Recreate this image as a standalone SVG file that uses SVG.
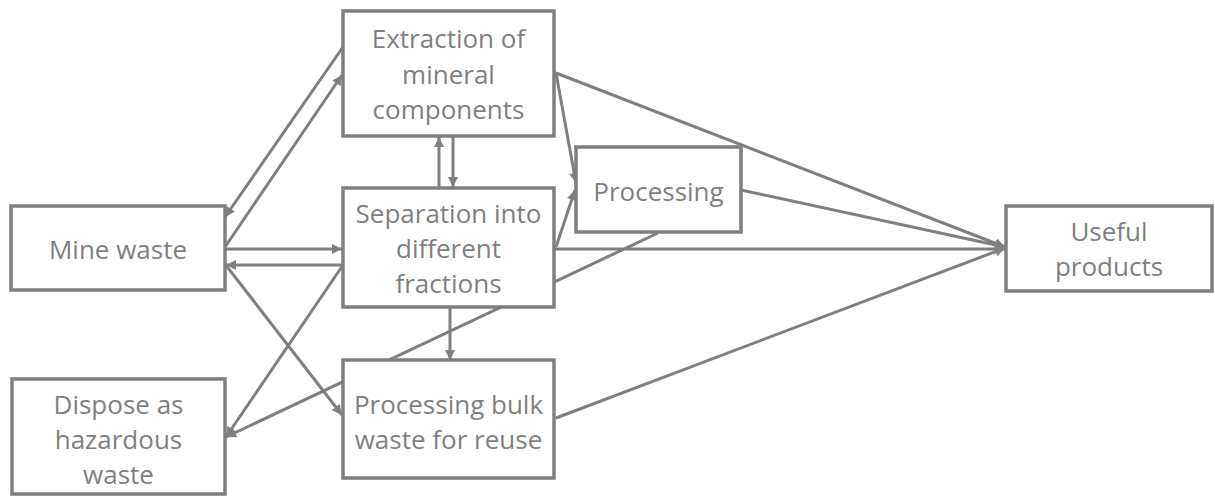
<svg xmlns="http://www.w3.org/2000/svg" width="1215" height="499" viewBox="0 0 1215 499">
<style>
.box{fill:#ffffff;stroke:#7f7f7f;stroke-width:3.5}
.lbl{font-family:"Open Sans","Liberation Sans",sans-serif;font-size:26px;fill:#7f7f7f;text-anchor:middle}
.c{fill:none;stroke:#7f7f7f;stroke-width:3}
</style>
<defs>
<marker id="ah" viewBox="0 0 10 10" refX="10" refY="5" markerWidth="11" markerHeight="10" markerUnits="userSpaceOnUse" orient="auto">
<path d="M0,0 L10,5 L0,10 z" fill="#7f7f7f"/>
</marker>
</defs>
<rect width="1215" height="499" fill="#ffffff"/>
<g id="connectors">
<line class="c" x1="343" y1="47" x2="225" y2="217" marker-end="url(#ah)"/>
<line class="c" x1="225" y1="247" x2="342" y2="75" marker-end="url(#ah)"/>
<line class="c" x1="439" y1="188" x2="439" y2="137" marker-end="url(#ah)"/>
<line class="c" x1="453" y1="137" x2="453" y2="187" marker-end="url(#ah)"/>
<line class="c" x1="225" y1="249" x2="342" y2="249" marker-end="url(#ah)"/>
<line class="c" x1="343" y1="265" x2="226" y2="265" marker-end="url(#ah)"/>
<line class="c" x1="225" y1="264" x2="342" y2="415" marker-end="url(#ah)"/>
<line class="c" x1="343" y1="265" x2="226" y2="437" marker-end="url(#ah)"/>
<line class="c" x1="658" y1="233" x2="226" y2="437" marker-end="url(#ah)"/>
<line class="c" x1="556" y1="73" x2="576" y2="183" marker-end="url(#ah)"/>
<line class="c" x1="556" y1="247" x2="575" y2="190" marker-end="url(#ah)"/>
<line class="c" x1="556" y1="73" x2="1005" y2="247" marker-end="url(#ah)"/>
<line class="c" x1="741" y1="190" x2="1005" y2="247" marker-end="url(#ah)"/>
<line class="c" x1="555" y1="249" x2="1005" y2="249" marker-end="url(#ah)"/>
<line class="c" x1="556" y1="418" x2="1005" y2="248" marker-end="url(#ah)"/>
<line class="c" x1="450" y1="307" x2="450" y2="360" marker-end="url(#ah)"/>
</g>
<g id="extraction">
<rect class="box" x="343" y="11" width="211" height="125"/>
<text class="lbl" x="448.5" y="48">Extraction of</text>
<text class="lbl" x="448.5" y="84">mineral</text>
<text class="lbl" x="448.5" y="119">components</text>
</g>
<g id="mine-waste">
<rect class="box" x="11" y="206" width="214" height="84"/>
<text class="lbl" x="118" y="259">Mine waste</text>
</g>
<g id="separation">
<rect class="box" x="343" y="188" width="211" height="119"/>
<text class="lbl" x="448.5" y="223">Separation into</text>
<text class="lbl" x="448.5" y="258">different</text>
<text class="lbl" x="448.5" y="293">fractions</text>
</g>
<g id="processing">
<rect class="box" x="576" y="147" width="165" height="85"/>
<text class="lbl" x="658.5" y="201">Processing</text>
</g>
<g id="useful-products">
<rect class="box" x="1006" y="206" width="206" height="85"/>
<text class="lbl" x="1109" y="241">Useful</text>
<text class="lbl" x="1109" y="276">products</text>
</g>
<g id="dispose">
<rect class="box" x="12" y="379" width="213" height="115"/>
<text class="lbl" x="118.5" y="414">Dispose as</text>
<text class="lbl" x="118.5" y="449">hazardous</text>
<text class="lbl" x="118.5" y="484">waste</text>
</g>
<g id="processing-bulk">
<rect class="box" x="343" y="360" width="211" height="118"/>
<text class="lbl" x="448.5" y="414">Processing bulk</text>
<text class="lbl" x="448.5" y="449">waste for reuse</text>
</g>
</svg>
